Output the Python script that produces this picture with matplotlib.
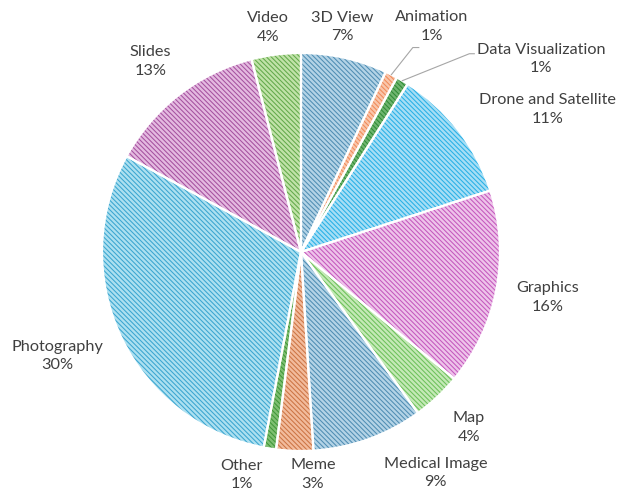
import numpy as np
import matplotlib.pyplot as plt

# pie data, clockwise from 12 o'clock
labels = ['3D View', 'Animation', 'Data Visualization', 'Drone and Satellite',
          'Graphics', 'Map', 'Medical Image', 'Meme', 'Other', 'Photography',
          'Slides', 'Video']
shares = [7, 1, 1, 11, 16, 4, 9, 3, 1, 30, 13, 4]

# light fill + darker stripe colour per slice
fills = ['#b3d3e6', '#f9c6ab', '#6fb56f', '#a6def5', '#eec3ea', '#c4e9b6',
         '#b3d3e6', '#f2bb9c', '#7fbf72', '#ace0f0', '#e4b9e0', '#c0e2a8']
stripes = ['#4f8db3', '#f08a58', '#2f8a35', '#27b0e6', '#c458bd', '#6cc05a',
           '#4f8db3', '#cc7444', '#3f9638', '#3aa5d0', '#a5519f', '#62a94a']

# label placement: distance in pie radii and nudge of the angle (deg)
label_r = [1.15, 1.31, 1.55, 1.43, 1.26, 1.22, 1.30, 1.12, 1.16, 1.33, 1.22, 1.14]
label_nudge = [2.3, -3.1, -20.6, -7.8, 0.3, 0.5, 11.5, 4.9, -5.9, -2.1, 0.5, 1.2]
# leader lines (elbow and end, relative to label centre)
leaders = {1: [(-0.095, -0.106), (-0.065, -0.106)],
           2: [(-0.362, 0.025), (-0.337, 0.025)]}

plt.rcParams['font.family'] = ['Lato', 'DejaVu Sans']
plt.rcParams['hatch.linewidth'] = 0.75

fig = plt.figure(figsize=(6.18, 4.95), dpi=100)
ax = fig.add_axes([0, 0, 1, 1])

# striped fill
wedges, _ = ax.pie(shares, startangle=90, counterclock=False, radius=1.0,
                   colors=fills, wedgeprops=dict(linewidth=0))
for w, c in zip(wedges, stripes):
    w.set_hatch('\\' * 7)
    w.set_edgecolor(c)
    w.set_linewidth(0)
# white separators on top
ax.pie(shares, startangle=90, counterclock=False, radius=1.0,
       colors=['none'] * len(shares),
       wedgeprops=dict(linewidth=1.6, edgecolor='white'))
ax.set_xlim(-1.5126, 1.593)
ax.set_ylim(-1.221, 1.266)
ax.set_aspect('equal')
ax.axis('off')

total = sum(shares)
cum = 0
for i, (lab, s) in enumerate(zip(labels, shares)):
    mid = 90 - 360 * (cum + s / 2) / total
    cum += s
    a = np.radians(mid + label_nudge[i])
    lx, ly = label_r[i] * np.cos(a), label_r[i] * np.sin(a)
    ax.text(lx, ly, f'{lab}\n{s / total:.0%}', ha='center', va='center',
            fontsize=11.7, color='#404040', linespacing=1.4)
    if i in leaders:
        m = np.radians(mid)
        (ex, ey), (fx, fy) = leaders[i]
        ax.plot([np.cos(m), lx + ex, lx + fx], [np.sin(m), ly + ey, ly + fy],
                color='#a6a6a6', lw=0.8)

fig.savefig('out.png', dpi=100)
